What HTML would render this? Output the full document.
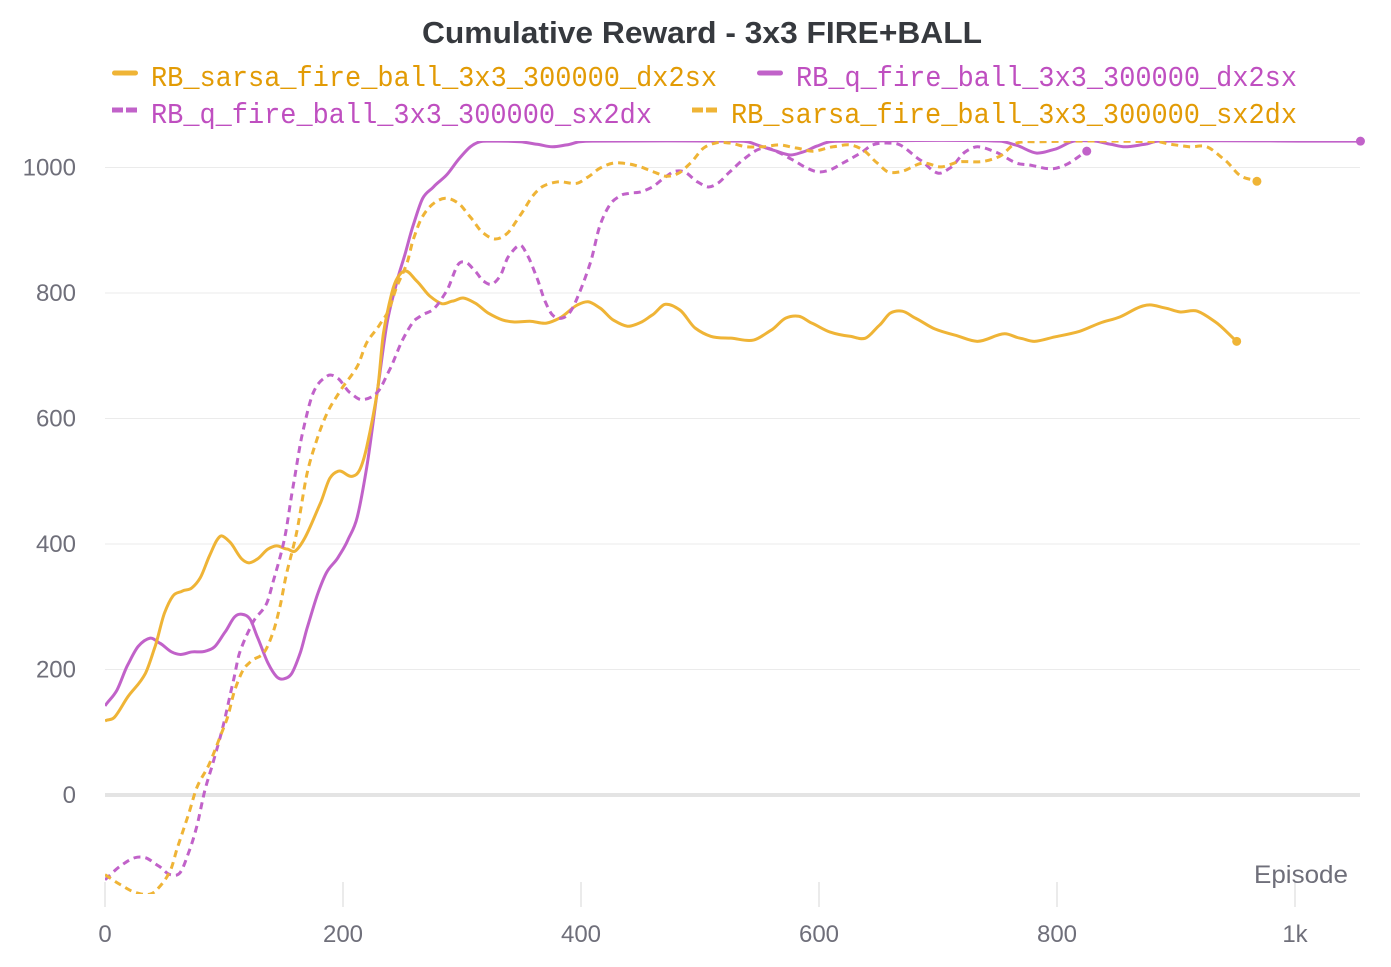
<!DOCTYPE html>
<html>
<head>
<meta charset="utf-8">
<title>Cumulative Reward - 3x3 FIRE+BALL</title>
<style>
html,body{margin:0;padding:0;background:#fff;}
svg{display:block;}
text{font-family:"Liberation Sans",sans-serif;}
.mono{font-family:"Liberation Mono",monospace;}
</style>
</head>
<body>
<svg id="chart" xmlns="http://www.w3.org/2000/svg" width="1391" height="967" viewBox="0 0 1391 967">
  <defs>
    <clipPath id="plot-clip"><rect x="105" y="141" width="1256" height="753"/></clipPath>
  </defs>
  <text x="702" y="43" text-anchor="middle" font-size="31" font-weight="700" fill="#36393e" textLength="560" lengthAdjust="spacingAndGlyphs">Cumulative Reward - 3x3 FIRE+BALL</text>

  <g>
    <g>
      <line x1="114.5" x2="135.5" y1="73" y2="73" stroke="#efb436" stroke-width="5" stroke-linecap="round"/>
      <text class="mono" x="151" y="86" font-size="29" fill="#e29b05" textLength="566" lengthAdjust="spacingAndGlyphs">RB_sarsa_fire_ball_3x3_300000_dx2sx</text>
    </g>
    <g>
      <line x1="759.5" x2="780.5" y1="73" y2="73" stroke="#c162c9" stroke-width="5" stroke-linecap="round"/>
      <text class="mono" x="796" y="86" font-size="29" fill="#bf4fc0" textLength="501" lengthAdjust="spacingAndGlyphs">RB_q_fire_ball_3x3_300000_dx2sx</text>
    </g>
    <g>
      <line x1="112" x2="137" y1="110" y2="110" stroke="#c162c9" stroke-width="5" stroke-dasharray="11 3"/>
      <text class="mono" x="151" y="123" font-size="29" fill="#bf4fc0" textLength="501" lengthAdjust="spacingAndGlyphs">RB_q_fire_ball_3x3_300000_sx2dx</text>
    </g>
    <g>
      <line x1="692" x2="718" y1="110" y2="110" stroke="#efb436" stroke-width="5" stroke-dasharray="11 3"/>
      <text class="mono" x="731" y="123" font-size="29" fill="#e29b05" textLength="566" lengthAdjust="spacingAndGlyphs">RB_sarsa_fire_ball_3x3_300000_sx2dx</text>
    </g>
  </g>

  <g id="grid"></g>
  <g id="xaxis"></g>
  <g id="yaxis"></g>
  <g id="lines" clip-path="url(#plot-clip)"></g>
  <g id="dots"></g>
  <text x="1348" y="883" text-anchor="end" font-size="25" fill="#6f6f7a" textLength="94" lengthAdjust="spacingAndGlyphs">Episode</text>
</svg>

<script>
const xTicks = [0, 200, 400, 600, 800, 1000];
const xTickLabels = ['0', '200', '400', '600', '800', '1k'];
const yTicks = [0, 200, 400, 600, 800, 1000];
const yTickLabels = ['0', '200', '400', '600', '800', '1000'];

const sarsaDx2sxX = [0,8,19,34,42,50,57,65,73,80,88,94,98,105,115,121,128,137,144,153,160,168,181,189,196,208,214,220,229,234,241,246,253,262,273,283,292,301,311,322,334,343,357,371,382,397,406,416,427,439,450,460,471,483,496,509,526,545,560,572,583,594,609,626,639,651,660,670,681,697,714,733,756,769,781,798,819,836,853,870,878,891,903,918,933,951];
const sarsaDx2sxY = [118,124,156,194,236,290,317,325,330,346,382,406,413,403,376,370,376,392,397,392,389,410,465,505,516,508,518,555,645,736,800,825,835,819,795,783,787,792,784,768,757,754,755,752,760,781,786,776,757,747,753,765,782,773,744,731,728,725,741,760,763,752,738,731,728,749,768,771,760,743,733,723,735,728,723,730,739,752,762,778,781,776,770,771,754,723];

const qDx2sxX = [0,10,19,28,38,46,56,63,73,84,92,101,109,115,122,128,137,144,150,157,164,170,179,186,196,204,212,220,229,237,245,252,259,267,276,287,298,307,315,324,349,363,376,388,399,410,534,540,548,561,576,587,598,609,620,752,765,783,798,814,832,845,857,874,885,1055];
const qDx2sxY = [142,167,207,237,250,242,228,224,228,229,236,260,284,288,280,252,210,189,185,194,226,267,322,354,379,406,443,523,645,752,816,861,908,951,969,988,1015,1033,1041,1042,1041,1037,1033,1036,1041,1042,1042,1041,1036,1028,1020,1025,1034,1041,1042,1042,1036,1023,1029,1042,1042,1037,1033,1037,1042,1042];

const qSx2dxX = [0,13,25,34,45,55,63,71,77,84,91,99,108,113,124,136,141,151,158,166,175,187,195,206,216,229,239,250,259,265,277,287,297,303,311,318,325,332,339,349,355,363,370,376,384,391,399,408,416,424,433,441,450,460,471,479,487,498,507,515,525,536,548,556,565,578,590,599,609,620,635,645,657,668,685,700,710,723,733,748,766,777,796,807,825];
const qSx2dxY = [-135,-113,-100,-100,-113,-127,-124,-88,-51,8,53,108,183,226,274,306,338,410,491,577,641,668,665,641,630,642,677,725,754,763,776,803,846,849,835,819,814,827,858,876,860,824,786,765,760,770,802,849,908,940,955,959,961,969,985,994,993,977,969,975,993,1012,1028,1031,1025,1012,999,993,996,1007,1023,1036,1039,1036,1012,991,999,1025,1033,1025,1007,1004,998,1004,1026];

const sarsaSx2dxX = [0,13,25,38,45,55,61,70,77,88,98,103,109,116,122,134,141,147,152,161,170,178,187,197,212,220,231,238,245,254,259,266,275,286,297,307,317,328,338,349,360,368,380,397,406,416,427,439,450,461,472,482,492,503,513,525,539,553,567,581,595,612,626,637,649,658,668,687,703,718,739,752,766,786,885,895,911,926,941,954,968];
const sarsaSx2dxY = [-127,-143,-155,-158,-148,-120,-83,-32,11,51,99,124,167,199,212,228,258,300,348,418,514,566,610,642,683,721,750,771,809,849,885,919,941,951,943,921,897,886,895,924,956,970,977,975,985,999,1007,1006,1001,993,986,991,1007,1031,1039,1039,1033,1033,1036,1031,1026,1033,1036,1028,1007,993,993,1007,1001,1009,1010,1018,1039,1041,1041,1037,1033,1033,1012,987,978];

const NS = 'http://www.w3.org/2000/svg';
const xScale = function (v) { return 105 + v * 1.19; };
const yScale = function (v) { return 795 - v * 0.6275; };

function curvePath(xs, ys) {
  const px = xs.map(xScale);
  const py = ys.map(yScale);
  const n = px.length;
  const span = function (i, k) {
    const a = Math.max(i - k, 0);
    const b = Math.min(i + k, n - 1);
    return (py[b] - py[a]) / (px[b] - px[a]);
  };
  const slope = [];
  for (let i = 0; i < n; i++) {
    slope.push((2 * span(i, 1) + span(i, 2)) / 3);
  }
  let d = 'M' + px[0].toFixed(2) + ' ' + py[0].toFixed(2);
  for (let i = 1; i < n; i++) {
    const dx = (px[i] - px[i - 1]) / 3;
    d += 'C' + (px[i - 1] + dx).toFixed(2) + ' ' + (py[i - 1] + slope[i - 1] * dx).toFixed(2) +
         ' ' + (px[i] - dx).toFixed(2) + ' ' + (py[i] - slope[i] * dx).toFixed(2) +
         ' ' + px[i].toFixed(2) + ' ' + py[i].toFixed(2);
  }
  return d;
}

const gridG = document.getElementById('grid');
const xAxisG = document.getElementById('xaxis');
const yAxisG = document.getElementById('yaxis');
const linesG = document.getElementById('lines');
const dotsG = document.getElementById('dots');

yTicks.forEach(function (t, i) {
  const ln = document.createElementNS(NS, 'line');
  
  
  ln.setAttribute('x1', 105);
  ln.setAttribute('x2', 1360);
  ln.setAttribute('y1', yScale(t));
  ln.setAttribute('y2', yScale(t));
  ln.setAttribute('stroke', t === 0 ? '#e4e4e4' : '#ebebeb');
  ln.setAttribute('stroke-width', t === 0 ? 4 : 1);
  gridG.appendChild(ln);

  const tx = document.createElementNS(NS, 'text');
  
  
  tx.setAttribute('x', 76);
  tx.setAttribute('y', yScale(t) + 8);
  tx.setAttribute('text-anchor', 'end');
  tx.setAttribute('font-size', '24');
  tx.setAttribute('fill', '#6f6f7a');
  tx.textContent = yTickLabels[i];
  yAxisG.appendChild(tx);
});

xTicks.forEach(function (t, i) {
  const ln = document.createElementNS(NS, 'line');
  
  
  ln.setAttribute('x1', xScale(t));
  ln.setAttribute('x2', xScale(t));
  ln.setAttribute('y1', 882);
  ln.setAttribute('y2', 907);
  ln.setAttribute('stroke', '#e4e4e4');
  ln.setAttribute('stroke-width', 1.5);
  xAxisG.appendChild(ln);

  const tx = document.createElementNS(NS, 'text');
  
  
  tx.setAttribute('x', xScale(t));
  tx.setAttribute('y', 942);
  tx.setAttribute('text-anchor', 'middle');
  tx.setAttribute('font-size', '24');
  tx.setAttribute('fill', '#6f6f7a');
  tx.textContent = xTickLabels[i];
  xAxisG.appendChild(tx);
});

function drawSeries(name, xs, ys, color, dash) {
  const p = document.createElementNS(NS, 'path');
  
  
  p.setAttribute('data-series', name);
  p.setAttribute('d', curvePath(xs, ys));
  p.setAttribute('fill', 'none');
  p.setAttribute('stroke', color);
  p.setAttribute('stroke-width', 3);
  p.setAttribute('stroke-linejoin', 'round');
  if (dash) { p.setAttribute('stroke-dasharray', dash); }
  linesG.appendChild(p);

  const c = document.createElementNS(NS, 'circle');
  
  
  c.setAttribute('data-series', name);
  c.setAttribute('cx', xScale(xs[xs.length - 1]));
  c.setAttribute('cy', yScale(ys[ys.length - 1]));
  c.setAttribute('r', 4.5);
  c.setAttribute('fill', color);
  dotsG.appendChild(c);
}

drawSeries('RB_q_fire_ball_3x3_300000_dx2sx', qDx2sxX, qDx2sxY, '#c162c9', null);
drawSeries('RB_sarsa_fire_ball_3x3_300000_dx2sx', sarsaDx2sxX, sarsaDx2sxY, '#efb436', null);
drawSeries('RB_q_fire_ball_3x3_300000_sx2dx', qSx2dxX, qSx2dxY, '#c162c9', '7 5');
drawSeries('RB_sarsa_fire_ball_3x3_300000_sx2dx', sarsaSx2dxX, sarsaSx2dxY, '#efb436', '7 5');
</script>
</body>
</html>
